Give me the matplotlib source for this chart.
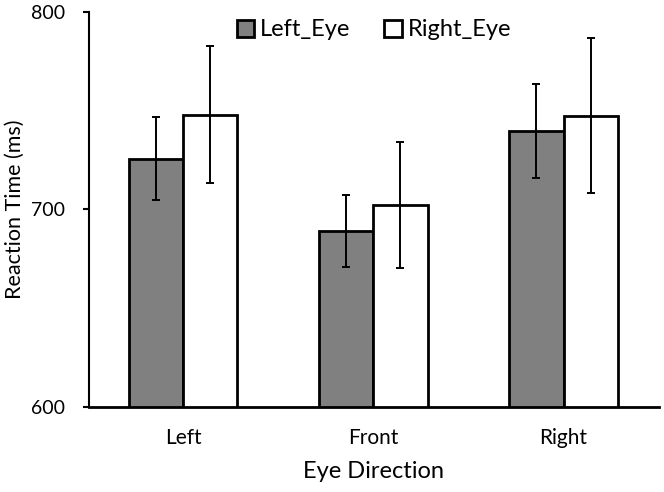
import matplotlib
matplotlib.use("Agg")
import matplotlib.pyplot as plt
import numpy as np

categories = ["Left", "Front", "Right"]
left_eye = [725.7, 689.2, 739.8]
right_eye = [748.0, 702.3, 747.5]
left_eye_err = [21.0, 18.2, 23.9]
right_eye_err = [34.7, 32.0, 39.4]
series_names = ["Left_Eye", "Right_Eye"]
yticks = [600, 700, 800]

plt.rcParams['font.family'] = ['Lato', 'DejaVu Sans']

fig = plt.figure(figsize=(6.64, 4.92), dpi=100)
ax = fig.add_axes([0.1340, 0.1734, 0.858, 0.8022])

x = np.arange(len(categories))
w = 0.285
ekw = dict(elinewidth=1.4, capthick=1.4, ecolor='black')
ax.bar(x - w/2, left_eye, w, color='#808080', edgecolor='black', linewidth=2.0,
       yerr=left_eye_err, capsize=2.7, error_kw=ekw, label=series_names[0], zorder=2)
ax.bar(x + w/2, right_eye, w, color='white', edgecolor='black', linewidth=2.0,
       yerr=right_eye_err, capsize=2.7, error_kw=ekw, label=series_names[1], zorder=2)

ax.set_ylim(600, 800)
ax.set_xlim(-0.495, 2.5)
ax.set_yticks(yticks)
ax.set_xticks(x)
ax.set_xticklabels(categories)
ax.tick_params(axis='y', direction='out', length=4, width=1.5, labelsize=14, pad=13)
ax.tick_params(axis='x', length=0, labelsize=15, pad=15)
for s in ['top', 'right']:
    ax.spines[s].set_visible(False)
ax.spines['left'].set_linewidth(1.5)
ax.spines['bottom'].set_linewidth(2.0)
ax.spines['bottom'].set_zorder(3)

ax.set_ylabel("Reaction Time (ms)", fontsize=15.5)
ax.yaxis.set_label_coords(-0.112, 0.5)
ax.set_xlabel("Eye Direction", fontsize=17, labelpad=10)

leg = ax.legend(loc='upper center', bbox_to_anchor=(0.5, 1.035), ncol=2, frameon=False,
                fontsize=17, handlelength=0.75, handleheight=0.75, handletextpad=0.25,
                columnspacing=1.4)
for h in leg.legend_handles:
    h.set_linewidth(2.0)

fig.savefig("out.png", dpi=100)
